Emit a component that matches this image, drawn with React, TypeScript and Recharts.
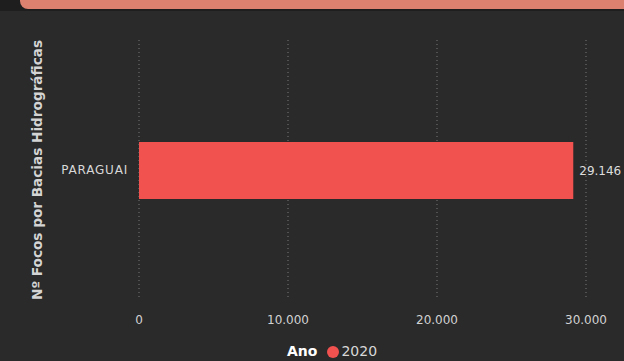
import React from "react";
import {
  BarChart,
  Bar,
  XAxis,
  YAxis,
  CartesianGrid,
  LabelList,
} from "recharts";

const bacias: string[] = ["PARAGUAI"];
const focos2020: number[] = [29146];
const xTicks: number[] = [0, 10000, 20000, 30000];
const seriesName = "2020";

const data = bacias.map((b, i) => ({ bacia: b, focos: focos2020[i] }));

const fmt = (v: number) => v.toLocaleString("pt-BR");

const FONT = "'DejaVu Sans', 'Open Sans', sans-serif";

const YLabel = (props: any) => {
  const vb = props.viewBox || {};
  const cx = 37;
  const cy = vb.y + vb.height / 2;
  return (
    <text
      x={cx}
      y={cy}
      transform={`rotate(-90, ${cx}, ${cy})`}
      textAnchor="middle"
      dominantBaseline="central"
      fill="#d4d4d4"
      fontSize={14}
      fontWeight={700}
      fontFamily={FONT}
      textLength={260}
      lengthAdjust="spacingAndGlyphs"
    >
      Nº Focos por Bacias Hidrográficas
    </text>
  );
};

const App: React.FC = () => {
  return (
    <div
      style={{
        position: "absolute",
        left: 0,
        top: 0,
        width: 624,
        height: 361,
        background: "#2a2a2a",
        overflow: "hidden",
        fontFamily: FONT,
      }}
    >
      <div
        style={{
          position: "absolute",
          left: 0,
          top: 0,
          width: 624,
          height: 11,
          background: "#1e1e1e",
        }}
      />
      <div
        style={{
          position: "absolute",
          left: 20,
          top: 0,
          width: 604,
          height: 9,
          background: "#dc806f",
          borderBottomLeftRadius: 8,
        }}
      />
      <BarChart
        width={624}
        height={361}
        data={data}
        layout="vertical"
        margin={{ top: 40, right: 38, left: 0, bottom: 0 }}
        barSize={57}
      >
        <CartesianGrid
          horizontal={false}
          stroke="#787878"
          strokeDasharray="1 3"
        />
        <XAxis
          type="number"
          domain={[0, 30000]}
          ticks={xTicks}
          tickFormatter={fmt}
          axisLine={false}
          tickLine={false}
          tickMargin={9}
          height={61}
          tick={{ fill: "#d2d2d2", fontSize: 12, fontFamily: FONT }}
        />
        <YAxis
          type="category"
          dataKey="bacia"
          width={139}
          axisLine={false}
          tickLine={false}
          tickMargin={5}
          tick={{
            fill: "#d8d8d8",
            fontSize: 12,
            fontFamily: FONT,
            letterSpacing: 0.8,
          }}
          label={<YLabel />}
        />
        <Bar dataKey="focos" fill="#f2524f" isAnimationActive={false}>
          <LabelList
            dataKey="focos"
            position="right"
            offset={6}
            formatter={(v: any) => fmt(Number(v))}
            fill="#dddddd"
            fontSize={12}
            fontFamily={FONT}
          />
        </Bar>
      </BarChart>
      <div
        style={{
          position: "absolute",
          left: 287,
          top: 343,
          display: "flex",
          alignItems: "center",
          fontSize: 14,
          lineHeight: "17px",
          color: "#d8d8d8",
        }}
      >
        <span style={{ fontWeight: 700, color: "#ffffff", marginRight: 10 }}>
          Ano
        </span>
        <span
          style={{
            display: "inline-block",
            width: 12,
            height: 12,
            borderRadius: 6,
            background: "#f2524f",
            marginRight: 2,
          }}
        />
        <span>{seriesName}</span>
      </div>
    </div>
  );
};

export default App;
